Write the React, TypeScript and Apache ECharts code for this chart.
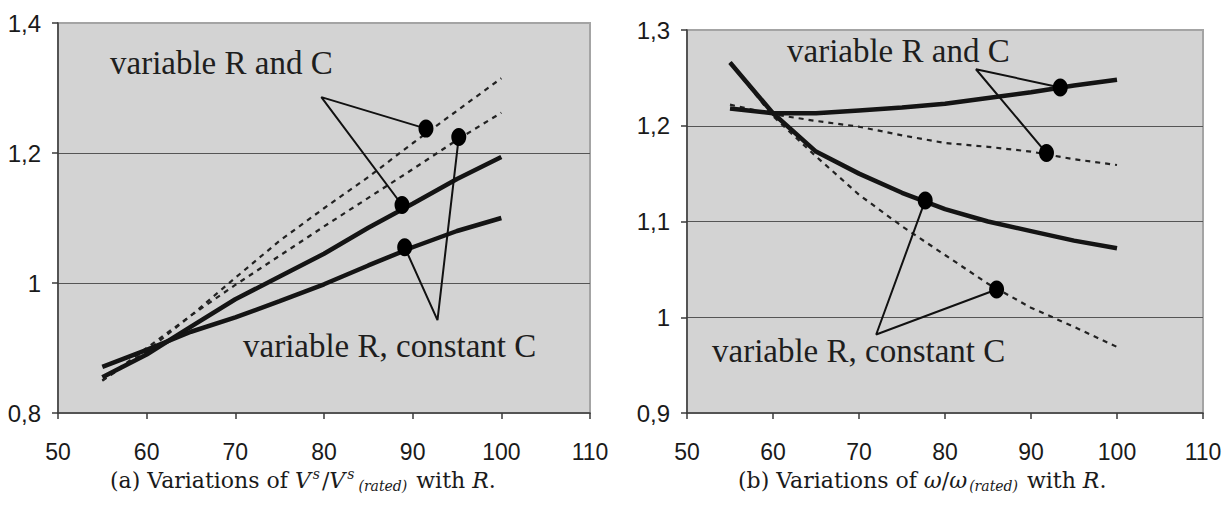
import React, { useEffect, useRef } from "react";
import * as echarts from "echarts";

// shared x values (R)
const rValues = [55, 60, 65, 70, 75, 80, 85, 90, 95, 100];

// chart (a): V^s / V^s_(rated)
const vsSolidUpper = [0.855, 0.89, 0.933, 0.975, 1.01, 1.045, 1.085, 1.122, 1.16, 1.194];
const vsSolidLower = [0.871, 0.897, 0.925, 0.947, 0.972, 0.998, 1.027, 1.055, 1.08, 1.1];
const vsDashedUpper = [0.85, 0.895, 0.95, 1.008, 1.065, 1.115, 1.163, 1.215, 1.265, 1.315];
const vsDashedLower = [0.85, 0.9, 0.95, 0.997, 1.042, 1.087, 1.131, 1.175, 1.22, 1.262];
const vsMarkers = [[91.5, 1.2375], [95.2, 1.2246], [88.8, 1.12], [89.1, 1.055]];
const vsCalloutRC = [[91.5, 1.2375], [79.7, 1.286], [88.8, 1.12]];
const vsCalloutConstC = [[95.2, 1.2246], [92.8, 0.943], [89.1, 1.055]];

// chart (b): omega / omega_(rated)
const wSolidRC = [1.218, 1.213, 1.213, 1.216, 1.219, 1.223, 1.229, 1.235, 1.242, 1.248];
const wSolidConstC = [1.266, 1.213, 1.173, 1.15, 1.13, 1.113, 1.1, 1.09, 1.08, 1.072];
const wDashedRC = [1.222, 1.212, 1.205, 1.199, 1.19, 1.182, 1.178, 1.173, 1.165, 1.159];
const wDashedConstC = [1.266, 1.21, 1.168, 1.128, 1.095, 1.065, 1.035, 1.01, 0.99, 0.969];
const wMarkers = [[93.4, 1.24], [91.8, 1.1715], [77.7, 1.122], [86, 1.029]];
const wCalloutRC = [[93.4, 1.24], [83.6, 1.259], [91.8, 1.1715]];
const wCalloutConstC = [[77.7, 1.122], [72.0, 0.982], [86, 1.029]];

const labelRC = "variable R and C";
const labelConstC = "variable R, constant C";

const SANS = '"Liberation Sans", Arial, Helvetica, sans-serif';
const SERIF = '"Liberation Serif", "Times New Roman", Times, serif';
const CAPFONT = '"DejaVu Serif", serif';

const pair = (ys: number[]) => rValues.map((x, i) => [x, ys[i]]);
const fmtY = (v: number) => String(Math.round(v * 10) / 10).replace(".", ",");

const SOLID = { color: "#141414", width: 4.5, type: "solid" as const };
const DASHED = { color: "#222", width: 2.2, type: [5, 5] as any };
const CALLOUT = { color: "#111", width: 2, type: "solid" as const };

function lineSeries(data: number[][], style: any, idx: number, z = 3) {
  return {
    type: "line",
    xAxisIndex: idx,
    yAxisIndex: idx,
    data,
    showSymbol: false,
    symbol: "none",
    lineStyle: style,
    z,
    silent: true,
  };
}

function markerSeries(data: number[][], idx: number) {
  return {
    type: "scatter",
    xAxisIndex: idx,
    yAxisIndex: idx,
    data,
    symbol: "circle",
    symbolSize: [15, 18],
    itemStyle: { color: "#000", opacity: 1 },
    z: 5,
    silent: true,
  };
}

function xAxisDef(idx: number) {
  return {
    type: "value",
    gridIndex: idx,
    min: 50,
    max: 110,
    interval: 10,
    axisLine: { show: true, onZero: false, lineStyle: { color: "#3a3a3a", width: 1.5 } },
    axisTick: { show: true, length: 6, lineStyle: { color: "#3a3a3a", width: 1.5 } },
    axisLabel: { fontSize: 23, lineHeight: 23, fontFamily: SANS, color: "#1a1a1a", margin: 27 },
    splitLine: { show: false },
  };
}

function yAxisDef(idx: number, min: number, max: number, interval: number) {
  return {
    type: "value",
    gridIndex: idx,
    min,
    max,
    interval,
    axisLine: { show: true, lineStyle: { color: "#3a3a3a", width: 1.5 } },
    axisTick: { show: true, length: 6, lineStyle: { color: "#3a3a3a", width: 1.5 } },
    axisLabel: { fontSize: 24, fontFamily: SANS, color: "#1a1a1a", margin: 17, formatter: fmtY },
    splitLine: { show: true, showMinLine: false, showMaxLine: false, lineStyle: { color: "#555", width: 1.2 } },
  };
}

const capBase = { fontSize: 22, fontFamily: CAPFONT, color: "#1a1a1a", lineHeight: 26, verticalAlign: "middle" };
const small = { fontSize: 14, fontFamily: CAPFONT, fontStyle: "italic", color: "#1a1a1a", lineHeight: 13, padding: [0, 2, 0, 2] };
const capRich = {
  t: { ...capBase },
  i: { ...capBase, fontStyle: "italic" },
  sup: { ...small, verticalAlign: "top" },
  sub: { ...small, verticalAlign: "bottom" },
};
const captionA = "{t|(a) Variations of }{i|V}{sup|s}{t|/}{i|V}{sup|s}{sub|(rated)}{t| with }{i|R}{t|.}";
const captionB = "{t|(b) Variations of }{i|ω}{t|/}{i|ω}{sub|(rated)}{t| with }{i|R}{t|.}";

function annot(text: string, x: number, y: number) {
  return {
    type: "text",
    x,
    y,
    z: 10,
    silent: true,
    style: { text, fontSize: 33, fontFamily: SERIF, fill: "#1e1e1e", verticalAlign: "middle", align: "left" },
  };
}

function caption(text: string, x: number, y: number) {
  return {
    type: "text",
    x,
    y,
    z: 10,
    silent: true,
    style: { text, rich: capRich, verticalAlign: "middle", align: "left", fill: "#1a1a1a" },
  };
}

const option: any = {
  animation: false,
  backgroundColor: "#ffffff",
  grid: [
    { left: 58, top: 23, width: 532, height: 390, show: true, backgroundColor: "#d3d3d3", borderColor: "#a4a4a4", borderWidth: 2 },
    { left: 687, top: 30, width: 516, height: 383, show: true, backgroundColor: "#d3d3d3", borderColor: "#a4a4a4", borderWidth: 2 },
  ],
  xAxis: [xAxisDef(0), xAxisDef(1)],
  yAxis: [yAxisDef(0, 0.8, 1.4, 0.2), yAxisDef(1, 0.9, 1.3, 0.1)],
  series: [
    lineSeries(pair(vsDashedUpper), DASHED, 0),
    lineSeries(pair(vsDashedLower), DASHED, 0),
    lineSeries(pair(vsSolidUpper), SOLID, 0),
    lineSeries(pair(vsSolidLower), SOLID, 0),
    lineSeries(vsCalloutRC, CALLOUT, 0, 4),
    lineSeries(vsCalloutConstC, CALLOUT, 0, 4),
    markerSeries(vsMarkers, 0),
    lineSeries(pair(wDashedRC), DASHED, 1),
    lineSeries(pair(wDashedConstC), DASHED, 1),
    lineSeries(pair(wSolidRC), SOLID, 1),
    lineSeries(pair(wSolidConstC), SOLID, 1),
    lineSeries(wCalloutRC, CALLOUT, 1, 4),
    lineSeries(wCalloutConstC, CALLOUT, 1, 4),
    markerSeries(wMarkers, 1),
  ],
  graphic: [
    annot(labelRC, 110, 63),
    annot(labelConstC, 243, 346),
    annot(labelRC, 787, 51),
    annot(labelConstC, 712, 351),
    caption(captionA, 110, 480),
    caption(captionB, 738, 480),
  ],
};

export default function App() {
  const ref = useRef<HTMLDivElement>(null);
  useEffect(() => {
    const chart = echarts.init(ref.current!, null, { renderer: "svg" });
    chart.setOption(option);
    return () => chart.dispose();
  }, []);
  return (
    <div
      ref={ref}
      style={{ position: "absolute", left: 0, top: 0, width: 1232, height: 505, background: "#fff" }}
    />
  );
}
